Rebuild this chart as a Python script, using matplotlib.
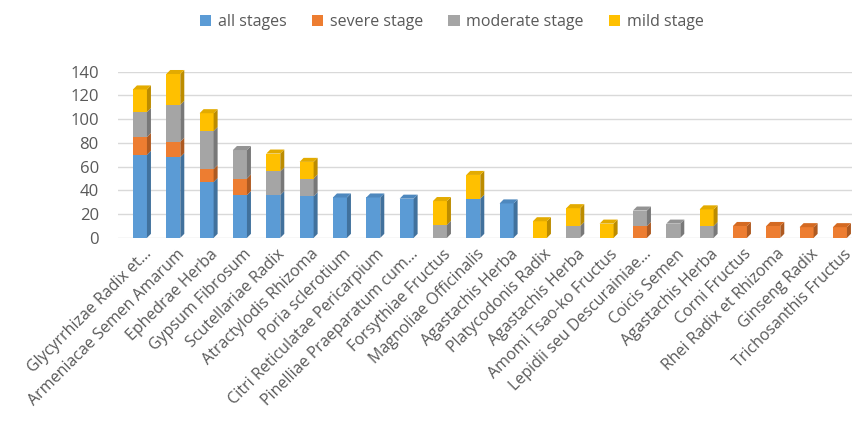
import matplotlib
matplotlib.use("Agg")
import matplotlib.pyplot as plt
import numpy as np

herbs = ["Glycyrrhizae Radix et...", "Armeniacae Semen Amarum", "Ephedrae Herba",
         "Gypsum Fibrosum", "Scutellariae Radix", "Atractylodis Rhizoma",
         "Poria sclerotium", "Citri Reticulatae Pericarpium", "Pinelliae Praeparatum cum...",
         "Forsythiae Fructus", "Magnoliae Officinalis", "Agastachis Herba",
         "Platycodonis Radix", "Agastachis Herba", "Amomi Tsao-ko Fructus",
         "Lepidii seu Descurainiae...", "Coicis Semen", "Agastachis Herba",
         "Corni Fructus", "Rhei Radix et Rhizoma", "Ginseng Radix", "Trichosanthis Fructus"]

all_stages = [70, 68, 47, 36, 36, 35, 34, 34, 33, 0, 33, 29, 0, 0, 0, 0, 0, 0, 0, 0, 0, 0]
severe     = [15, 13, 11, 14, 0, 0, 0, 0, 0, 0, 0, 0, 0, 0, 0, 10, 0, 0, 10, 10, 9, 9]
moderate   = [21, 31, 32, 24, 20, 15, 0, 0, 0, 11, 0, 0, 0, 10, 0, 13, 12, 10, 0, 0, 0, 0]
mild       = [19, 26, 15, 0, 15, 14, 0, 0, 0, 20, 20, 0, 14, 15, 12, 0, 0, 14, 0, 0, 0, 0]

series = [("all stages", all_stages, "#5B9BD5", "#41719C", "#4E88BE"),
          ("severe stage", severe, "#ED7D31", "#AE5A21", "#D46A22"),
          ("moderate stage", moderate, "#A5A5A5", "#787878", "#939393"),
          ("mild stage", mild, "#FFC000", "#BC8C00", "#E3AB00")]

plt.rcParams['font.family'] = ['Open Sans', 'DejaVu Sans']
txt = "#595959"

fig = plt.figure(figsize=(8.59, 4.24), dpi=100)
ax = fig.add_axes([0.1377, 0.439, 0.8537, 0.392])

x = np.arange(len(herbs))
w = 0.42
dx, dy = 0.12, 3.4   # fake depth
totals = np.sum([s[1] for s in series], axis=0)

bottom = np.zeros(len(herbs))
for name, vals, col, side, topc in series:
    vals = np.array(vals, dtype=float)
    ax.bar(x, vals, w, bottom=bottom, color=col, label=name, zorder=3, linewidth=0)
    for i in range(len(x)):
        if vals[i] <= 0:
            continue
        y0, y1 = bottom[i], bottom[i] + vals[i]
        xr = x[i] + w / 2
        ax.fill([xr, xr + dx, xr + dx, xr], [y0, y0 + dy, y1 + dy, y1],
                color=side, zorder=3, lw=0, clip_on=False)
        if abs(y1 - totals[i]) < 1e-9:
            xl = x[i] - w / 2
            ax.fill([xl, xl + dx, xr + dx, xr], [y1, y1 + dy, y1 + dy, y1],
                    color=topc, zorder=3, lw=0, clip_on=False)
    bottom += vals

ax.set_xlim(-0.65, len(herbs) - 0.65)
ax.set_ylim(0, 140)
ax.set_yticks(range(0, 141, 20))
ax.yaxis.grid(True, color="#D9D9D9", lw=1, zorder=0)
ax.set_axisbelow(True)
for s in ax.spines.values():
    s.set_visible(False)
ax.tick_params(axis='both', length=0, colors=txt, labelsize=12)
ax.tick_params(axis='y', pad=14)
ax.set_xticks(x + 0.1)
ax.set_xticklabels(herbs, rotation=45, ha='right', va='top', rotation_mode='anchor',
                   fontsize=11.5, color=txt)
ax.tick_params(axis='x', pad=6)

fig.legend(loc='upper center', bbox_to_anchor=(0.526, 1.0), ncol=4, frameon=False,
           fontsize=11.5, handlelength=0.7, handleheight=0.7, handletextpad=0.4,
           columnspacing=1.6, labelcolor=txt)

fig.savefig("out.png", dpi=100)
